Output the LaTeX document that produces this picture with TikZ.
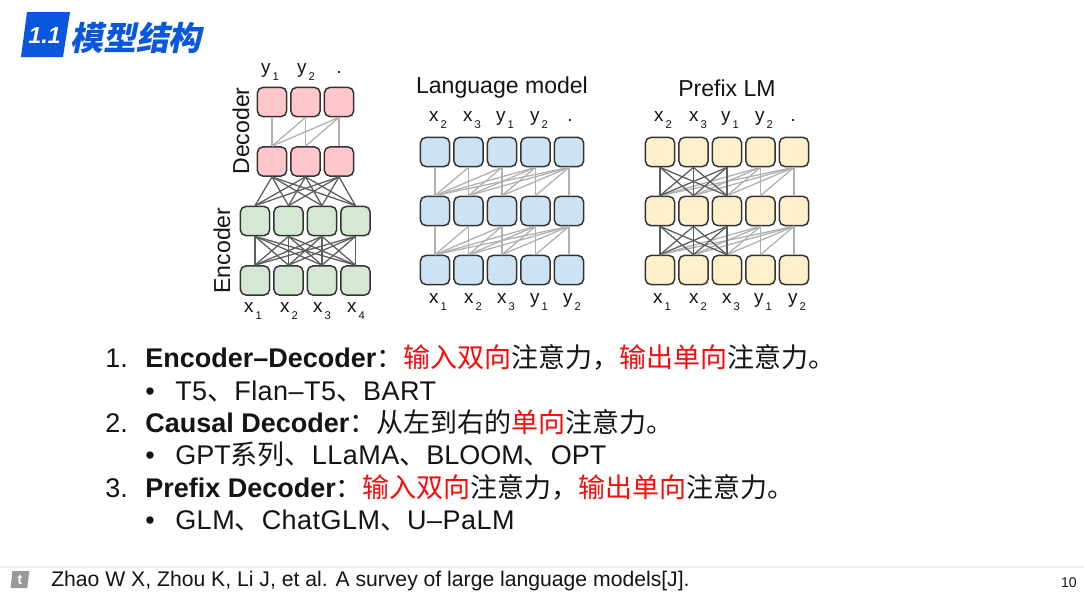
\documentclass[tikz,border=0pt]{standalone}
\usepackage{fontspec}
\usepackage{tikz}
\setmainfont{Liberation Sans}
\newfontfamily\cjkfont{Noto Sans CJK SC}
\newfontfamily\cjktitle[FakeSlant=.2]{Noto Sans CJK SC}
\newfontfamily\numtitle[FakeSlant=.2]{Liberation Sans}
\newfontfamily\widefont[LetterSpace=1.8]{Liberation Sans}
\usetikzlibrary{arrows.meta,calc,positioning}
\definecolor{ink}{HTML}{141414}
\definecolor{hot}{HTML}{FB0A0A}
\definecolor{titleblue}{HTML}{0A56DC}
\definecolor{edge}{HTML}{333333}
\definecolor{lightlink}{HTML}{B0B0B0}
\definecolor{darklink}{HTML}{5C5C5C}
\definecolor{pink}{HTML}{FFC7CB}
\definecolor{leaf}{HTML}{D5E8D4}
\definecolor{sky}{HTML}{CCE2F5}
\definecolor{cream}{HTML}{FFF0CC}
\tikzset{
  every node/.style={text=ink,inner sep=0pt},
  cell/.style={rounded corners=1.4mm,draw=edge,line width=1.05pt,minimum size=.73cm},
  heading/.style={font=\fontsize{16.4}{18}\selectfont},
  tag/.style={font=\fontsize{13.4}{15}\selectfont},
  body/.style={font=\fontsize{19.2}{23}\selectfont,anchor=base west},
  foot/.style={font=\fontsize{15.05}{17}\selectfont,anchor=base west},
  light/.style={draw=lightlink,line width=.9pt},
  dark/.style={draw=darklink,line width=.9pt},
}
\newcommand{\zh}[1]{{\cjkfont #1}}
\newcommand{\zhred}[1]{\textcolor{hot}{\cjkfont #1}}
\newcommand{\wide}[1]{{\widefont #1}}
\newcommand{\tagsub}[2]{#1\raisebox{-.65ex}{\hspace{.1em}\fontsize{8}{9}\selectfont #2}}
\begin{document}
\begin{tikzpicture}[x=.025cm,y=-.025cm]
\path[use as bounding box] (0,0) rectangle (1084,592);
\fill[white] (0,0) rectangle (1084,592);
% Title badge
\fill[titleblue] (27,12)--(70,12)--(63,57)--(21,57)--cycle;
\node[font=\bfseries\numtitle\fontsize{16.5}{18}\selectfont,text=white] (badge) at (43.5,36) {1.1};
\node[font=\cjktitle\bfseries\fontsize{23.4}{26}\selectfont,text=titleblue,anchor=west] (title) at (70,38) {模型结构};
% Encoder-Decoder panel
\foreach \i/\px in {1/272,2/305.5,3/339}{
  \node[cell,fill=pink] (dectop\i) at (\px,102) {};
  \node[cell,fill=pink] (declow\i) at (\px,161.5) {};
}
\foreach \i/\px in {1/255,2/288.5,3/322,4/355.5}{
  \node[cell,fill=leaf] (enctop\i) at (\px,221) {};
  \node[cell,fill=leaf] (enclow\i) at (\px,280.5) {};
}
\foreach \i in {1,2,3}{
  \foreach \j in {1,...,\i}{
    \draw[light] (dectop\i.south)--(declow\j.north);
  }
  \foreach \j in {1,2,3,4}{
    \draw[dark] (declow\i.south)--(enctop\j.north);
  }
}
\foreach \i in {1,2,3,4}{
  \foreach \j in {1,2,3,4}{
    \draw[dark] (enctop\i.south)--(enclow\j.north);
  }
}
\node[heading,rotate=90] (declabel) at (241,131) {Decoder};
\node[heading,rotate=90] (enclabel) at (222,250.5) {Encoder};
\node[tag] (ytag1) at (270,72) {\tagsub{y}{1}};
\node[tag] (ytag2) at (306,72) {\tagsub{y}{2}};
\node[tag] (ytag3) at (339,72) {.};
\node[tag] (xtag1) at (253,311) {\tagsub{x}{1}};
\node[tag] (xtag2) at (289,311) {\tagsub{x}{2}};
\node[tag] (xtag3) at (322,311) {\tagsub{x}{3}};
\node[tag] (xtag4) at (356,311) {\tagsub{x}{4}};
% Language model panel
\foreach \i/\px in {1/435,2/468.5,3/502,4/535.5,5/569}{
  \node[cell,fill=sky] (langa\i) at (\px,152) {};
  \node[cell,fill=sky] (langb\i) at (\px,211) {};
  \node[cell,fill=sky] (langc\i) at (\px,270) {};
}
\foreach \i in {1,...,5}{
  \foreach \j in {1,...,\i}{
    \draw[light] (langa\i.south)--(langb\j.north);
    \draw[light] (langb\i.south)--(langc\j.north);
  }
}
\node[heading] (langtitle) at (502,88) {Language model};
\node[tag] (lta1) at (438,120) {\tagsub{x}{2}};
\node[tag] (lta2) at (472,120) {\tagsub{x}{3}};
\node[tag] (lta3) at (505,120) {\tagsub{y}{1}};
\node[tag] (lta4) at (539,120) {\tagsub{y}{2}};
\node[tag] (lta5) at (570,120) {.};
\node[tag] (ltb1) at (438,302) {\tagsub{x}{1}};
\node[tag] (ltb2) at (473,302) {\tagsub{x}{2}};
\node[tag] (ltb3) at (506,302) {\tagsub{x}{3}};
\node[tag] (ltb4) at (539,302) {\tagsub{y}{1}};
\node[tag] (ltb5) at (572,302) {\tagsub{y}{2}};
% Prefix LM panel
\foreach \i/\px in {1/660,2/693.5,3/727,4/760.5,5/794}{
  \node[cell,fill=cream] (prea\i) at (\px,152) {};
  \node[cell,fill=cream] (preb\i) at (\px,211) {};
  \node[cell,fill=cream] (prec\i) at (\px,270) {};
}
\foreach \i in {4,5}{
  \foreach \j in {1,...,\i}{
    \draw[light] (prea\i.south)--(preb\j.north);
    \draw[light] (preb\i.south)--(prec\j.north);
  }
}
\foreach \i in {1,2,3}{
  \foreach \j in {1,2,3}{
    \draw[dark] (prea\i.south)--(preb\j.north);
    \draw[dark] (preb\i.south)--(prec\j.north);
  }
}
\node[heading] (pretitle) at (727,88) {Prefix LM};
\node[tag] (pta1) at (663,120) {\tagsub{x}{2}};
\node[tag] (pta2) at (698,120) {\tagsub{x}{3}};
\node[tag] (pta3) at (730,120) {\tagsub{y}{1}};
\node[tag] (pta4) at (764,120) {\tagsub{y}{2}};
\node[tag] (pta5) at (793,120) {.};
\node[tag] (ptb1) at (662,302) {\tagsub{x}{1}};
\node[tag] (ptb2) at (698,302) {\tagsub{x}{2}};
\node[tag] (ptb3) at (731,302) {\tagsub{x}{3}};
\node[tag] (ptb4) at (763,302) {\tagsub{y}{1}};
\node[tag] (ptb5) at (797,302) {\tagsub{y}{2}};
% Item list
\node[body] (num1) at (105,367) {1.};
\node[body] (item1) at (145,367) {\textbf{Encoder–Decoder}\zh{：}\zhred{输入双向}\zh{注意力，}\zhred{输出单向}\zh{注意力。}};
\node[body] (dot1) at (145,400) {•};
\node[body] (sub1) at (175,400) {\wide{T5}\zh{、}\wide{Flan–T5}\zh{、}\wide{BART}};
\node[body] (num2) at (105,432) {2.};
\node[body] (item2) at (145,432) {\textbf{Causal Decoder}\zh{：从左到右的}\zhred{单向}\zh{注意力。}};
\node[body] (dot2) at (145,464) {•};
\node[body] (sub2) at (175,464) {GPT\zh{系列、}\wide{LLaMA}\zh{、}BLOOM\zh{、}OPT};
\node[body] (num3) at (105,497) {3.};
\node[body] (item3) at (145,497) {\textbf{Prefix Decoder}\zh{：}\zhred{输入双向}\zh{注意力，}\zhred{输出单向}\zh{注意力。}};
\node[body] (dot3) at (145,529) {•};
\node[body] (sub3) at (175,529) {\wide{GLM}\zh{、}\wide{ChatGLM}\zh{、}\wide{U–PaLM}};
% Footer
\fill[black!7] (0,565.5) rectangle (1084,567.5);
\fill[black!40] (12.3,571)--(29.3,571)--(27.3,588)--(10.7,588)--cycle;
\node[font=\bfseries\fontsize{10}{11}\selectfont,text=white] (footmark) at (20,580) {t};
\node[foot] (source) at (51,586) {Zhao W X, Zhou K, Li J, et al. A survey of large language models[J].};
\node[font=\fontsize{10}{12}\selectfont,anchor=base east] (pagenum) at (1077,587) {10};
\end{tikzpicture}
\end{document}
